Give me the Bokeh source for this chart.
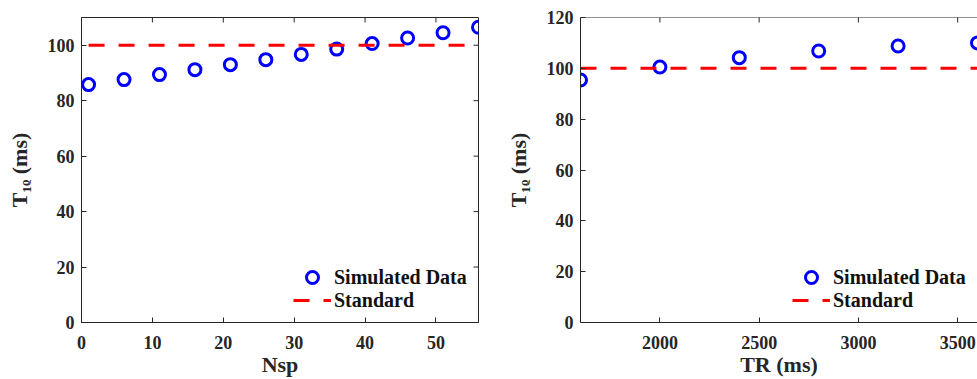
import math
from bokeh.plotting import figure
from bokeh.models import FixedTicker, Legend, LegendItem, Range1d, Span
from bokeh.layouts import row
from bokeh.embed import file_html
from bokeh.resources import INLINE

# ---- data ----
nsp = [1, 6, 11, 16, 21, 26, 31, 36, 41, 46, 51, 56]
t1rho_nsp = [85.8, 87.6, 89.4, 91.2, 93.0, 94.8, 96.7, 98.6, 100.6, 102.6, 104.5, 106.5]
tr = [1600, 2000, 2400, 2800, 3200, 3600]
t1rho_tr = [95.4, 100.5, 104.2, 106.8, 108.8, 110.0]
standard = 100
nsp_ticks = [0, 10, 20, 30, 40, 50]
tr_ticks = [2000, 2500, 3000, 3500]
y1_ticks = [0, 20, 40, 60, 80, 100]
y2_ticks = [0, 20, 40, 60, 80, 100, 120]

FONT = "Liberation Serif"
TXT = "#262626"
BLUE = "#0000ff"
RED = "#ff0000"


def style_axis(ax, ticks):
    ax.ticker = FixedTicker(ticks=ticks)
    ax.minor_tick_line_color = None
    ax.major_tick_in = 5
    ax.major_tick_out = 0
    ax.axis_line_color = TXT
    ax.major_tick_line_color = TXT
    ax.major_label_text_font = FONT
    ax.major_label_text_font_style = "bold"
    ax.major_label_text_color = TXT
    ax.major_label_text_font_size = "18px"
    ax.axis_label_text_font = FONT
    ax.axis_label_text_font_style = "bold"
    ax.axis_label_text_color = TXT
    ax.axis_label_text_font_size = "22px"


def make_panel(x, y, xr, yr, xticks, yticks, xlabel, width, mbl, mbr, box_right, std_x):
    p = figure(width=width, height=379, output_backend="svg", toolbar_location=None,
               x_range=Range1d(*xr), y_range=Range1d(*yr),
               min_border_left=mbl, min_border_right=mbr, min_border_top=17,
               min_border_bottom=10, background_fill_color="white",
               border_fill_color="white")
    p.grid.visible = False
    style_axis(p.xaxis[0], xticks)
    style_axis(p.yaxis[0], yticks)
    p.xaxis[0].major_label_standoff = 13
    p.xaxis[0].axis_label_standoff = 0
    p.yaxis[0].major_label_standoff = 7
    p.yaxis[0].axis_label_standoff = 13
    p.xaxis[0].axis_label = xlabel
    p.yaxis[0].axis_label = "T\u2081\u1d68 (ms)"

    # mirrored inward ticks on the top (and right) edges, clipped by the frame
    p.scatter(xticks, [yr[1]] * len(xticks), marker="dash", size=10, angle=math.pi / 2,
              line_color=TXT, line_width=1)
    if box_right:
        p.outline_line_color = TXT
        p.scatter([xr[1]] * len(yticks), yticks, marker="dash", size=10,
                  line_color=TXT, line_width=1)
    else:
        p.outline_line_color = None
        p.add_layout(Span(location=yr[1], dimension="width", line_color=TXT, line_width=1))

    r1 = p.scatter(x, y, size=12, marker="circle", fill_color=None,
                   line_color=BLUE, line_width=3)
    r2 = p.line(std_x, [standard] * len(std_x), line_color=RED, line_width=3,
                line_dash="16 14")
    common = dict(glyph_width=38, glyph_height=30, label_height=20, padding=0, margin=0,
                  label_standoff=3, border_line_color=None, background_fill_alpha=0,
                  label_text_font=FONT, label_text_font_style="bold",
                  label_text_font_size="20px", label_text_color="#111111")
    leg1 = Legend(items=[LegendItem(label="Simulated Data", renderers=[r1])],
                  location=(212, 30), **common)
    leg2 = Legend(items=[LegendItem(label="Standard", renderers=[r2])],
                  location=(212, 7), **common)
    p.add_layout(leg1, "center")
    p.add_layout(leg2, "center")
    return p


p1 = make_panel(nsp, t1rho_nsp, (0, 56), (0, 110), nsp_ticks, y1_ticks, "Nsp",
                490, 81, 12, True, [nsp[0], nsp[-1]])
p2 = make_panel(tr, t1rho_tr, (1600, 3600), (0, 120), tr_ticks, y2_ticks, "TR (ms)",
                487, 90, 0, False, [tr[0], tr[-1]])

layout = row(p1, p2, spacing=0)
open("out.html", "w").write(file_html(layout, INLINE))
